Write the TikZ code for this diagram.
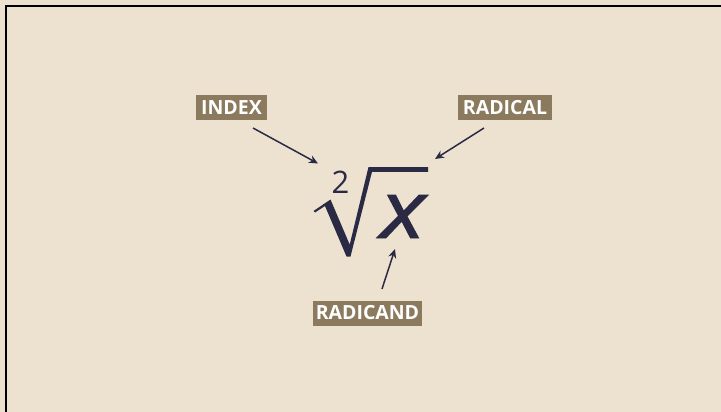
\documentclass[tikz,border=0pt]{standalone}
\usepackage{fontspec}
\setmainfont{Open Sans}
\newfontface\xfont[FakeBold=1.2]{Open Sans Italic}
\usetikzlibrary{arrows.meta}
\definecolor{bgc}{RGB}{237,225,208}
\definecolor{boxc}{RGB}{139,122,94}
\definecolor{navy}{RGB}{43,42,69}
\begin{document}
\begin{tikzpicture}[x=1pt,y=-1pt,
  lbl/.style={fill=boxc,text=white,inner sep=0pt,minimum height=25pt,
    font=\fontsize{19.5}{19.5}\selectfont\bfseries},
  pointer/.style={draw=navy,line width=1.5pt,-{Stealth[length=9pt,width=8pt]}}]
\useasboundingbox (0,0) rectangle (721,412);
\fill[bgc] (0,0) rectangle (721,412);
\draw[black,line width=2pt] (721,6) -- (6,6) -- (6,412);
% radical sign
\fill[navy] (313.5,211) -- (330.5,199.5) -- (349.7,244.6) -- (368.5,167) -- (428,167)
  -- (428,171.8) -- (372,171.8) -- (350.5,256.5) -- (346.5,256.5) -- (325,206) -- (315,212.5) -- cycle;
\node[anchor=base west,inner sep=0pt,text=navy,font=\fontsize{31}{31}\selectfont] (idx) at (331.5,193) {2};
\node[anchor=base west,inner sep=0pt,text=navy,font=\fontsize{80}{80}\xfont] (rad) at (380,238) {\scalebox{1.18}[1]{x}};
% labels
\node[lbl,minimum width=71pt] (index) at (231.5,107.5) {INDEX};
\node[lbl,minimum width=94pt] (radical) at (505,107.5) {RADICAL};
\node[lbl,minimum width=109pt] (radicand) at (367.5,313) {RADICAND};
% arrow coordinates
\coordinate (a1s) at (253,128);
\coordinate (a1e) at (318,163.5);
\coordinate (a2s) at (484,128);
\coordinate (a2e) at (435,159);
\coordinate (a3s) at (382,289);
\coordinate (a3e) at (395,249);
\draw[pointer] (a1s) -- (a1e);
\draw[pointer] (a2s) -- (a2e);
\draw[pointer] (a3s) -- (a3e);
\end{tikzpicture}
\end{document}
